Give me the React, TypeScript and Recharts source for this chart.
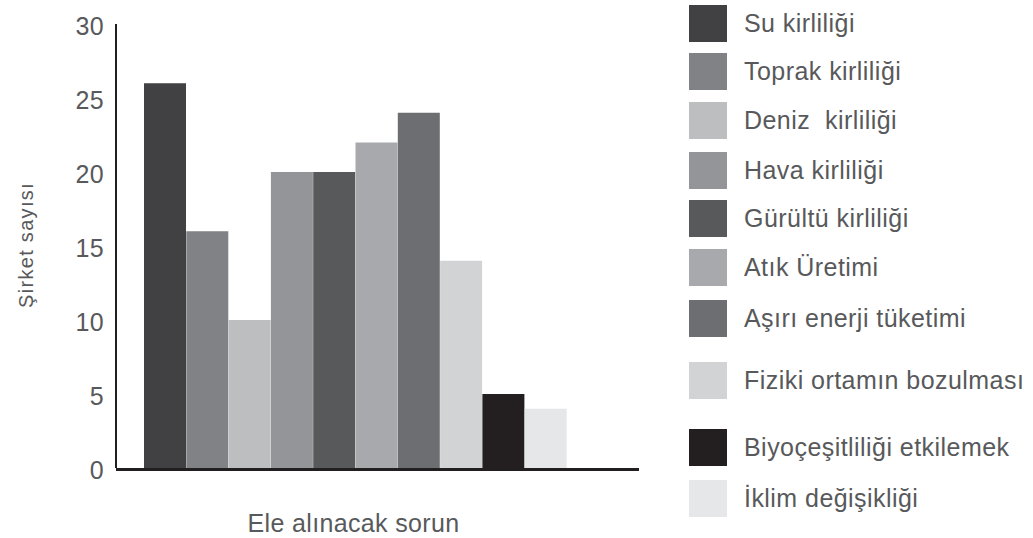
import { BarChart, Bar, Cell, XAxis, YAxis, Label } from 'recharts';

const categories = [
  'Su kirliliği',
  'Toprak kirliliği',
  'Deniz  kirliliği',
  'Hava kirliliği',
  'Gürültü kirliliği',
  'Atık Üretimi',
  'Aşırı enerji tüketimi',
  'Fiziki ortamın bozulması',
  'Biyoçeşitliliği etkilemek',
  'İklim değişikliği',
];
const companyCounts = [26, 16, 10, 20, 20, 22, 24, 14, 5, 4];
const barColors = [
  '#414042',
  '#808285',
  '#bcbec0',
  '#939598',
  '#58595b',
  '#a7a9ac',
  '#6d6e71',
  '#d1d3d4',
  '#231f20',
  '#e6e7e8',
];
const yTicks = [0, 5, 10, 15, 20, 25, 30];
const yTitle = 'Şirket sayısı';
const xTitle = 'Ele alınacak sorun';

// legend rows are not evenly spaced in the original
const legendTops = [5, 53, 102, 152, 200, 249, 300, 362, 429, 480];

const FONT = '"Liberation Sans", Arial, Helvetica, sans-serif';
const TEXT = '#58595b';

const data = categories.map((name, i) => ({ name, value: companyCounts[i] }));

function YTick({ x, y, payload }: any) {
  return (
    <text x={x} y={y} dy={11} textAnchor="end" fill={TEXT} fontSize={25} fontFamily={FONT} letterSpacing={0.3}>
      {payload.value}
    </text>
  );
}

export default function App() {
  return (
    <div style={{ position: 'relative', width: 1033, height: 538, background: '#fff' }}>
      <style>{'body{margin:0}'}</style>
      <BarChart
        width={1033}
        height={538}
        data={data}
        margin={{ top: 24, right: 394, bottom: 0, left: 0 }}
        barCategoryGap={0}
        barGap={0}
      >
        <XAxis
          dataKey="name"
          tick={false}
          tickLine={false}
          height={70}
          padding={{ left: 28, right: 72 }}
          axisLine={{ stroke: '#231f20', strokeWidth: 3, transform: 'translate(0 1.5)' }}
        >
          <Label
            content={({ viewBox }: any) => (
              <text
                x={viewBox.x + 28 + (viewBox.width - 100) / 2 - 2}
                y={viewBox.y + 64}
                textAnchor="middle"
                fill={TEXT}
                fontSize={25}
                fontFamily={FONT}
                letterSpacing={0.35}
              >
                {xTitle}
              </text>
            )}
          />
        </XAxis>
        <YAxis
          width={116}
          domain={[0, 30]}
          ticks={yTicks}
          interval={0}
          tickLine={false}
          tickSize={0}
          tickMargin={12}
          tick={<YTick />}
          axisLine={{ stroke: '#231f20', strokeWidth: 2 }}
        >
          <Label
            content={({ viewBox }: any) => {
              const cx = 33;
              const cy = viewBox.y + viewBox.height / 2 - 1;
              return (
                <text
                  x={cx}
                  y={cy}
                  transform={`rotate(-90 ${cx} ${cy})`}
                  textAnchor="middle"
                  fill={TEXT}
                  fontSize={20}
                  fontFamily={FONT}
                  letterSpacing={1.3}
                >
                  {yTitle}
                </text>
              );
            }}
          />
        </YAxis>
        <Bar dataKey="value" isAnimationActive={false}>
          {data.map((d, i) => (
            <Cell key={d.name} fill={barColors[i]} />
          ))}
        </Bar>
      </BarChart>

      {/* legend */}
      {categories.map((name, i) => (
        <div key={name}>
          <div
            style={{
              position: 'absolute',
              left: 689,
              top: legendTops[i],
              width: 38,
              height: 37,
              background: barColors[i],
            }}
          />
          <div
            style={{
              position: 'absolute',
              left: 744,
              top: legendTops[i],
              height: 37,
              lineHeight: '37px',
              fontSize: 25,
              fontFamily: FONT,
              color: TEXT,
              letterSpacing: 0.45,
              whiteSpace: 'pre',
            }}
          >
            {name}
          </div>
        </div>
      ))}
    </div>
  );
}
